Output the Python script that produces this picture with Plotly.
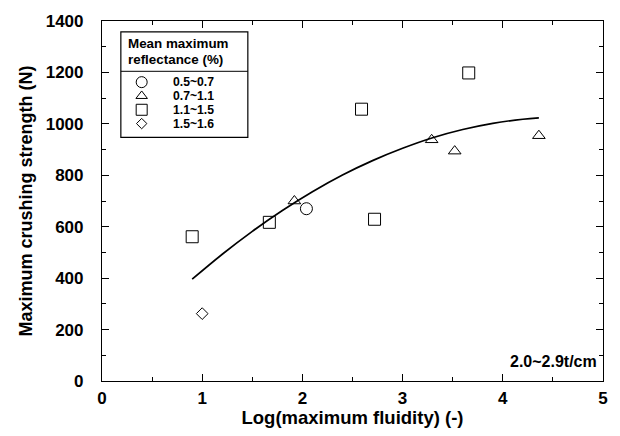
import plotly.graph_objects as go

# ---- data ----
groups = ["0.5~0.7", "0.7~1.1", "1.1~1.5", "1.5~1.6"]
x_circle = [2.04]
y_circle = [670]
x_triangle = [1.92, 3.29, 3.52, 4.36]
y_triangle = [700, 938, 894, 954]
x_square = [0.90, 1.67, 2.59, 2.72, 3.66]
y_square = [561, 617, 1057, 629, 1198]
x_diamond = [1.00]
y_diamond = [262]
curve_x = [0.9, 1.2, 1.5, 1.8, 2.1, 2.4, 2.7, 3.0, 3.3, 3.6, 3.9, 4.2, 4.36]
curve_y = [396, 493, 582, 663, 736, 801, 857, 905, 946, 978, 1002, 1018, 1023]
x_ticks = [0, 1, 2, 3, 4, 5]
y_ticks = [0, 200, 400, 600, 800, 1000, 1200, 1400]
legend_title = ["Mean maximum", "reflectance (%)"]

FONT = "Liberation Sans, Arial, Helvetica, sans-serif"
W, H = 620, 436
ML, MR, MT, MB = 102, 13, 18, 53
PW, PH = W - ML - MR, H - MT - MB

symbols = ["circle-open", "triangle-up-open", "square-open", "diamond-open"]
sizes = [12, 11, 12, 9]
series = [(x_circle, y_circle), (x_triangle, y_triangle),
          (x_square, y_square), (x_diamond, y_diamond)]

fig = go.Figure()
fig.add_trace(go.Scatter(x=curve_x, y=curve_y, mode="lines",
                         line=dict(color="black", width=1.7, shape="spline"),
                         showlegend=False, hoverinfo="skip"))
for (xs, ys), sym, sz, name in zip(series, symbols, sizes, groups):
    fig.add_trace(go.Scatter(x=xs, y=ys, mode="markers", name=name,
                             marker=dict(symbol=sym, size=sz, color="black",
                                         line=dict(color="black", width=1)),
                             showlegend=False))

# ---- hand-drawn legend on a pixel overlay axis ----
leg_left, leg_top, leg_right, leg_bottom, leg_sep = 121, 29, 249, 136, 69
row_gap = 14           # pixel spacing of legend rows
title_gap = 15.5       # pixel spacing of legend title lines
row_y = [80 + row_gap * i for i in range(len(groups))]
mk_x = 142
txt_x = 172

def px(x):
    return x - ML

def py(y):
    return y - MT

for i, (sym, sz) in enumerate(zip(symbols, sizes)):
    fig.add_trace(go.Scatter(x=[px(mk_x)], y=[py(row_y[i])], mode="markers",
                             xaxis="x2", yaxis="y2",
                             marker=dict(symbol=sym, size=sz - 1, color="black",
                                         line=dict(color="black", width=1)),
                             showlegend=False, hoverinfo="skip"))

shapes = [
    dict(type="rect", xref="x2", yref="y2", x0=px(leg_left), x1=px(leg_right),
         y0=py(leg_top), y1=py(leg_bottom), line=dict(color="black", width=1.2),
         fillcolor="white", layer="below"),
    dict(type="line", xref="x2", yref="y2", x0=px(leg_left), x1=px(leg_right),
         y0=py(leg_sep), y1=py(leg_sep), line=dict(color="black", width=1)),
]

def block(lines, inner_size):
    return "<br>".join('<span style="font-size:%gpx"><b>%s</b></span>' % (inner_size, s)
                       for s in lines)

annotations = [
    dict(text=block(legend_title, 13.4), xref="x2", yref="y2", x=px(126),
         y=py(49), xanchor="left", yanchor="middle", showarrow=False, align="left",
         font=dict(family=FONT, size=title_gap / 1.3, color="black")),
    dict(text=block(groups, 12.2), xref="x2", yref="y2", x=px(txt_x),
         y=py((row_y[0] + row_y[-1]) / 2), xanchor="left", yanchor="middle",
         showarrow=False, align="left",
         font=dict(family=FONT, size=row_gap / 1.3, color="black")),
    dict(text="<b>2.0~2.9t/cm</b>", xref="x2", yref="y2", x=px(603), y=py(363),
         xanchor="right", yanchor="middle", showarrow=False,
         font=dict(family=FONT, size=16, color="black")),
]

axis_common = dict(showline=True, linecolor="black", linewidth=1.2, mirror="ticks",
                   ticks="inside", ticklen=7, tickwidth=1, tickcolor="black",
                   showgrid=False, zeroline=False,
                   tickfont=dict(family=FONT, size=17, color="black"))

fig.update_layout(
    width=W, height=H, margin=dict(l=ML, r=MR, t=MT, b=MB),
    paper_bgcolor="white", plot_bgcolor="white", showlegend=False,
    xaxis=dict(range=[0, 5], tickvals=x_ticks, ticktext=["<b>%d</b>" % v for v in x_ticks],
               minor=dict(ticks="inside", ticklen=4, dtick=0.5, tickcolor="black", showgrid=False),
               title=dict(text="<b>Log(maximum fluidity) (-)</b>", standoff=4,
                          font=dict(family=FONT, size=18.5, color="black")),
               ticklabelstandoff=1, **axis_common),
    yaxis=dict(range=[0, 1400], tickvals=y_ticks, ticktext=["<b>%d</b>" % v for v in y_ticks],
               minor=dict(ticks="inside", ticklen=4, dtick=100, tickcolor="black", showgrid=False),
               title=dict(text="<b>Maximum crushing strength (N)</b>", standoff=8,
                          font=dict(family=FONT, size=18, color="black")),
               ticklabelstandoff=14, **axis_common),
    xaxis2=dict(overlaying="x", range=[0, PW], visible=False, fixedrange=True),
    yaxis2=dict(overlaying="y", range=[PH, 0], visible=False, fixedrange=True),
    shapes=shapes, annotations=annotations,
)

fig.write_html("out.html")
